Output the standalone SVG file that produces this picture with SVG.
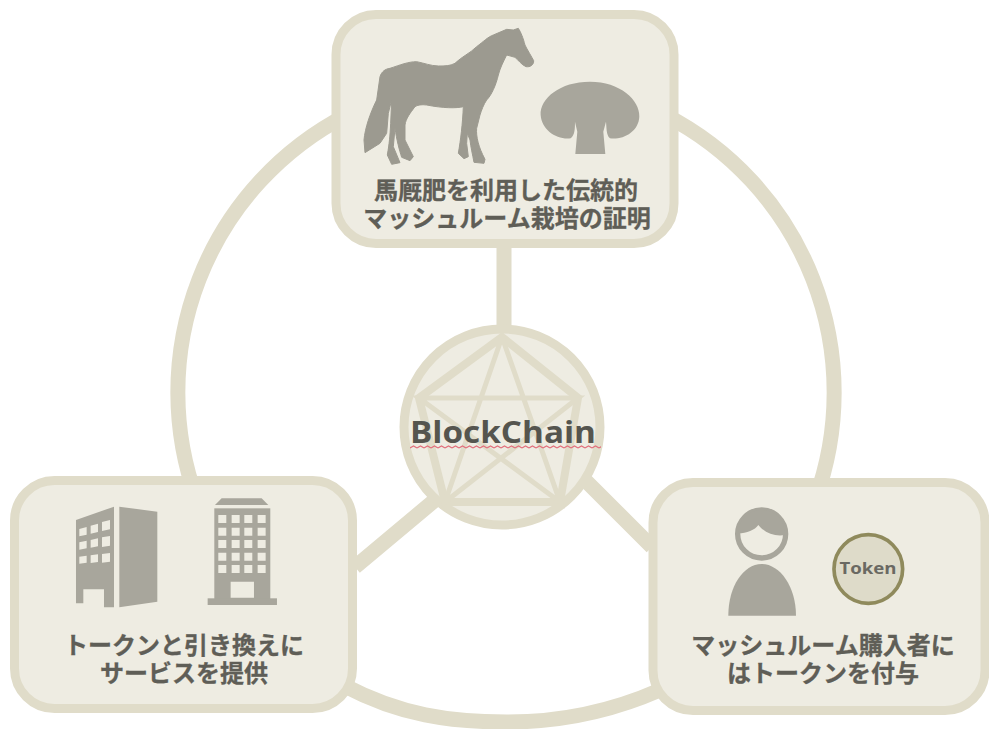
<svg xmlns="http://www.w3.org/2000/svg" width="989" height="729" viewBox="0 0 989 729">
<style>
.box{fill:#eeece2;stroke:#e0dcc9;stroke-width:9}
.line{fill:none;stroke:#e0dcc9;stroke-width:15}
.star{fill:none;stroke:#e0dcc9;stroke-width:5}
.pent{fill:none;stroke:#e0dcc9;stroke-width:8}
.icon{fill:#a8a69c}
.win{fill:#eeece2}
.jp{font-family:"Noto Sans CJK JP","Noto Sans",sans-serif;font-weight:700;font-size:24px;fill:#5f5e57;text-anchor:middle;stroke:#5f5e57;stroke-width:.3}
</style>
<defs>
<pattern id="wave" width="7" height="4" patternUnits="userSpaceOnUse" x="410" y="445">
<path d="M0 3L3.500 1L7 3" fill="none" stroke="#e2707c" stroke-width="1.200"/>
</pattern>
</defs>
<rect width="989" height="729" fill="#fff"/>
<g id="connectors">
<path class="line" d="M665 115A312 312 0 0 1 815 500"/>
<path class="line" d="M347 115A312 312 0 0 0 197 500"/>
<path class="line" d="M345 686C400 715 450 722 507 722C560 722 610 712 660 690"/>
<path class="line" d="M504 240V335M441 495L355 567M583 478L652 547"/>
</g>
<g id="node-top">
<rect class="box" x="336" y="14.500" width="338" height="229" rx="40"/>
<g transform="translate(330 0) scale(.3333)">
<path fill="#9c9a90" stroke="#9c9a90" stroke-width="3" stroke-linejoin="round" d="M565 85C572 95 580 115 585 135C592 150 605 170 611 182C612 195 600 202 588 200C575 195 565 180 555 172L530 165C520 185 510 205 505 225C498 255 485 285 470 300C460 315 455 330 450 345L440 385C438 410 445 440 465 478L462 490L432 487C428 465 422 440 420 420L412 400L410 430L415 470L402 476L385 460C392 420 398 370 400 320C380 325 340 325 290 315C275 313 262 315 255 320C240 340 228 355 225 375L225 420L250 470L240 482L215 472C208 450 200 420 195 385L190 440L210 488L185 493L172 465C178 430 180 410 182 370L185 300L175 340L170 400L150 430L105 458L102 420C105 385 120 340 140 300L150 230C155 215 165 207 180 205C210 195 235 185 260 185C285 190 300 197 325 198C345 198 360 198 375 190C395 170 420 160 440 140C460 125 475 110 490 105L530 88L550 90Z"/>
<path class="icon" d="M780 245C870 245 930 300 928 350C926 395 880 420 840 415C828 405 830 380 828 365L820 395L826 462L736 462L742 395L735 365C735 385 735 405 722 415C680 420 635 390 632 345C630 295 690 245 780 245Z"/>
</g>
<text class="jp"><tspan x="506" y="199">馬厩肥を利用した伝統的</tspan><tspan x="507" y="227">マッシュルーム栽培の証明</tspan></text>
</g>
<g id="node-center">
<circle cx="502" cy="427" r="98" fill="#eeece2" stroke="#e0dcc9" stroke-width="9"/>
<path class="pent" d="M502 337L578 398L560 502L445 502L419 398Z"/>
<path class="star" d="M502 337L445 502L578 398L419 398L560 502Z"/>
<text x="503" y="443" font-family="Open Sans,Noto Sans,sans-serif" font-weight="700" font-size="31" fill="#55554f" text-anchor="middle" textLength="186" lengthAdjust="spacingAndGlyphs">BlockChain</text>
<rect x="410" y="445" width="191" height="4" fill="url(#wave)"/>
</g>
<g id="node-left">
<rect class="box" x="14.500" y="480.500" width="338" height="228" rx="40"/>
<g transform="translate(0 470) scale(.3333)">
<path class="icon" d="M228 150L342 110V412H312V358H250V400H228Z"/>
<path class="icon" d="M358 110L472 125V395L358 412Z"/>
<path class="win" d="M238 177L260 171V194L238 199ZM272 167L294 161V186L272 191ZM306 156L330 150V178L306 183ZM238 217L260 212V235L238 239ZM272 210L294 205V229L272 233ZM306 202L330 198V227L306 231ZM238 260L260 257V278L238 281ZM272 256L294 253V276L272 279ZM306 252L330 249V275L306 278Z"/>
<path class="icon" d="M645 105L665 85H785L805 105Z"/>
<rect class="icon" x="643" y="115" width="168" height="272"/>
<rect class="icon" x="623" y="385" width="208" height="20"/>
<path class="win" d="M655 135h24v24h-24zM695 135h24v24h-24zM733 135h24v24h-24zM773 135h24v24h-24zM655 173h24v24h-24zM695 173h24v24h-24zM733 173h24v24h-24zM773 173h24v24h-24zM655 210h24v24h-24zM695 210h24v24h-24zM733 210h24v24h-24zM773 210h24v24h-24zM655 248h24v24h-24zM695 248h24v24h-24zM733 248h24v24h-24zM773 248h24v24h-24zM655 285h24v24h-24zM695 285h24v24h-24zM733 285h24v24h-24zM773 285h24v24h-24zM692 335h70v48h-70z"/>
</g>
<text class="jp"><tspan x="184" y="654">トークンと引き換えに</tspan><tspan x="184" y="682">サービスを提供</tspan></text>
</g>
<g id="node-right">
<rect class="box" x="653" y="482.500" width="332" height="228" rx="40"/>
<g transform="translate(640 470) scale(.3333)">
<circle cx="365" cy="192" r="72" fill="#eeece2" stroke="#a8a69c" stroke-width="16"/>
<path class="icon" d="M295 190C320 190 345 180 355 165C375 190 405 200 435 195C435 150 405 120 365 120C325 120 295 150 295 190Z"/>
<path class="icon" d="M265 437C265 350 310 282 365 282C420 282 468 350 468 437Z"/>
<circle cx="685" cy="297" r="103" fill="#dedbc9" stroke="#8f8a5c" stroke-width="11"/>
</g>
<text x="868" y="574" font-family="Open Sans,Noto Sans,sans-serif" font-weight="700" font-size="16" fill="#6a6962" text-anchor="middle" textLength="57" lengthAdjust="spacingAndGlyphs">Token</text>
<text class="jp"><tspan x="823" y="654">マッシュルーム購入者に</tspan><tspan x="823" y="682">はトークンを付与</tspan></text>
</g>
</svg>
